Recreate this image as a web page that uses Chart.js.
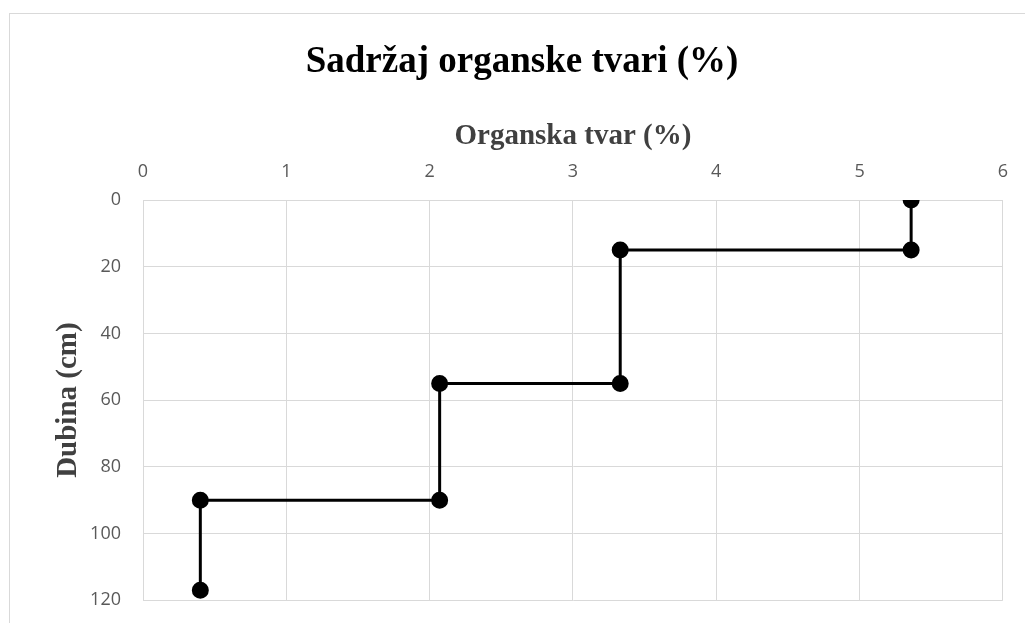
<!DOCTYPE html>
<html>
<head>
<meta charset="utf-8">
<script src="https://cdn.jsdelivr.net/npm/chart.js@4/dist/chart.umd.min.js"></script>
<style>
  html, body { margin: 0; padding: 0; background: #fff; overflow: hidden; }
  #okvir { position: absolute; left: 9px; top: 13px; width: 1040px; height: 640px; border: 1px solid #d9d9d9; box-sizing: border-box; }
  #wrap { position: absolute; left: 0; top: 0; width: 1025px; height: 633px; }
</style>
</head>
<body>
<div id="okvir"></div>
<div id="wrap"><canvas id="grafTvar"></canvas></div>
<script>
// organska tvar (%) po dubini (cm)
const organskaTvar = [5.36, 5.36, 3.33, 3.33, 2.07, 2.07, 0.4, 0.4];
const dubina = [0, 15, 15, 55, 55, 90, 90, 117];
const xTicks = [0, 1, 2, 3, 4, 5, 6];
const yTicks = [0, 20, 40, 60, 80, 100, 120];

const tocke = organskaTvar.map(function (v, i) {
    return { x: v, y: dubina[i] };
});

const naslovVis = 40.6 + 37 * 1.2; // visina bloka naslova
const lijevo = 40;

new Chart("grafTvar", {
    type: "scatter",
    data: {
        datasets: [{
            data: tocke,
            showLine: true,
            borderColor: "#000",
            borderWidth: 3,
            pointRadius: 7,
            pointBackgroundColor: "#000",
            pointBorderColor: "#000",
            fill: false
        }]
    },
    options: {
        responsive: true,
        maintainAspectRatio: false,
        animation: false,
        layout: { padding: { left: lijevo, right: 21, top: 0, bottom: 13 } },
        plugins: {
            legend: { display: false },
            tooltip: { enabled: false },
            title: {
                display: true,
                text: "Sadržaj organske tvari (%)",
                color: "#000",
                font: { family: "Liberation Serif", size: 37, weight: "bold", lineHeight: 1.2 },
                padding: { top: 40.6, bottom: 0 }
            }
        },
        scales: {
            x: {
                type: "linear",
                position: "top",
                min: xTicks[0],
                max: xTicks[xTicks.length - 1],
                afterBuildTicks: function (s) { s.ticks = xTicks.map(v => ({ value: v })); },
                afterFit: function (s) { s.height = 200 - naslovVis; },
                grid: { color: "#d9d9d9", lineWidth: 1, drawTicks: false },
                border: { color: "#d9d9d9" },
                ticks: { color: "#595959", font: { family: "Open Sans", size: 18 }, padding: 17 },
                title: {
                    display: true,
                    text: "Organska tvar (%)",
                    color: "#404040",
                    font: { family: "Liberation Serif", size: 29, weight: "bold", lineHeight: 1.2 },
                    padding: { top: 34.2, bottom: 0 }
                }
            },
            y: {
                type: "linear",
                reverse: true,
                min: yTicks[0],
                max: yTicks[yTicks.length - 1],
                afterBuildTicks: function (s) { s.ticks = yTicks.map(v => ({ value: v })); },
                afterFit: function (s) { s.width = 143 - lijevo; },
                grid: { color: "#d9d9d9", lineWidth: 1, drawTicks: false },
                border: { color: "#d9d9d9" },
                ticks: { color: "#595959", font: { family: "Open Sans", size: 18 }, padding: 22 },
                title: {
                    display: true,
                    text: "Dubina (cm)",
                    color: "#404040",
                    font: { family: "Liberation Serif", size: 29, weight: "bold", lineHeight: 1.2 },
                    padding: { top: 11.6, bottom: 0 }
                }
            }
        }
    }
});
</script>
</body>
</html>
